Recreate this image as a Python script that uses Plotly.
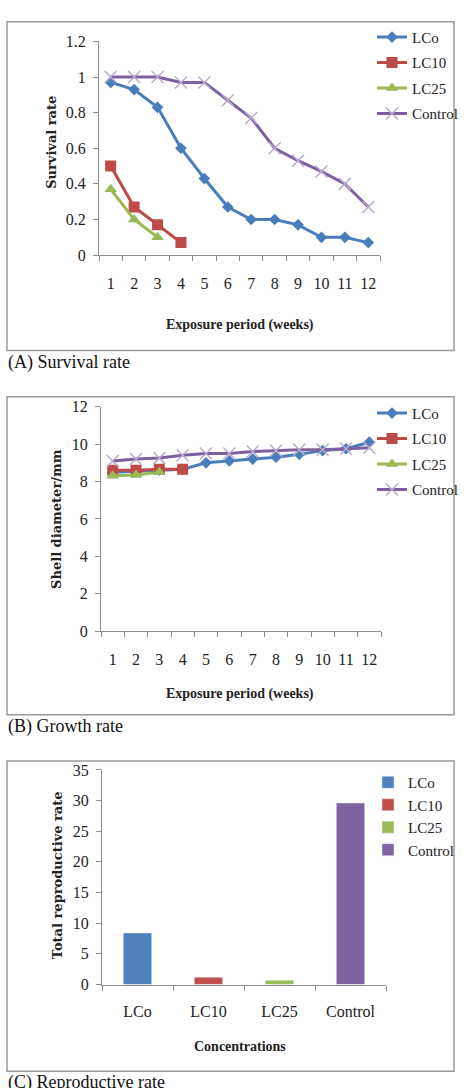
import plotly.graph_objects as go

W, H = 468, 1088

weeks = [str(i) for i in range(1, 13)]

# Panel A: survival rate
surv_lco = [0.97, 0.93, 0.83, 0.60, 0.43, 0.27, 0.20, 0.20, 0.17, 0.10, 0.10, 0.07]
surv_lc10 = [0.50, 0.27, 0.17, 0.07]
surv_lc25 = [0.37, 0.20, 0.10]
surv_ctrl = [1.00, 1.00, 1.00, 0.97, 0.97, 0.87, 0.77, 0.60, 0.53, 0.47, 0.40, 0.27]

# Panel B: shell diameter (mm)
grow_lco = [8.5, 8.55, 8.6, 8.65, 9.0, 9.1, 9.2, 9.3, 9.45, 9.65, 9.75, 10.1]
grow_lc10 = [8.6, 8.6, 8.65, 8.65]
grow_lc25 = [8.3, 8.35, 8.5]
grow_ctrl = [9.1, 9.2, 9.25, 9.4, 9.5, 9.5, 9.6, 9.65, 9.7, 9.7, 9.75, 9.8]

# Panel C: total reproductive rate
concentrations = ["LCo", "LC10", "LC25", "Control"]
repro = [8.4, 1.2, 0.7, 29.6]

series_names = ["LCo", "LC10", "LC25", "Control"]
line_colors = ["#4a7ebb", "#be4b48", "#98b954", "#7d60a0"]
bar_colors = ["#4f81bd", "#c0504d", "#9bbb59", "#8064a2"]
symbols = ["diamond", "square", "triangle-up", "x-thin"]
msizes = [9, 11, 11, 12]

SERIF = "Liberation Serif, Times New Roman, serif"
BOLDSERIF = "DejaVu Serif, serif"


def px(x):
    return x / W


def py(y):
    return 1 - y / H


fig = go.Figure()

panels = [
    (surv_lco, surv_lc10, surv_lc25, surv_ctrl, "x", "y", "legend"),
    (grow_lco, grow_lc10, grow_lc25, grow_ctrl, "x2", "y2", "legend2"),
]
for (a, b, c, d, xa, ya, lg) in panels:
    for i, vals in enumerate([a, b, c, d]):
        mk = dict(symbol=symbols[i], size=msizes[i], color=line_colors[i])
        if symbols[i] == "x-thin":
            mk = dict(symbol="x-thin", size=msizes[i],
                      line=dict(color="#b9aad0", width=1.5), color="#b9aad0")
        fig.add_trace(go.Scatter(
            x=weeks[:len(vals)], y=vals, name=series_names[i],
            mode="lines+markers",
            line=dict(color=line_colors[i], width=3),
            marker=mk, xaxis=xa, yaxis=ya, legend=lg,
            legendgroup=lg + str(i),
        ))

for i, (cat, v) in enumerate(zip(concentrations, repro)):
    fig.add_trace(go.Bar(
        x=[cat], y=[v], name=series_names[i], marker_color=bar_colors[i],
        width=0.4, xaxis="x3", yaxis="y3", legend="legend3",
        legendgroup="c" + str(i),
    ))

axis_line = dict(showline=True, linecolor="#8c8c8c", linewidth=1,
                 showgrid=False, zeroline=False, ticks="outside",
                 tickcolor="#8c8c8c", ticklen=5, tickangle=0,
                 tickfont=dict(family=SERIF, size=16, color="#222"))

fig.update_layout(
    width=W, height=H, margin=dict(l=0, r=0, t=0, b=0),
    paper_bgcolor="white", plot_bgcolor="white",
    barmode="overlay",
    font=dict(family=SERIF),
    xaxis=dict(**axis_line, domain=[px(99), px(380)], type="category",
               categoryorder="array", categoryarray=weeks,
               range=[-0.5, 11.5], tickson="boundaries",
               ticklabelstandoff=14, anchor="y"),
    yaxis=dict(**axis_line, domain=[py(251), py(34)], range=[0, 1.2],
               dtick=0.2, tickformat="~g", ticklabelstandoff=4,
               anchor="x"),
    xaxis2=dict(**axis_line, domain=[px(101), px(381)], type="category",
                categoryorder="array", categoryarray=weeks,
                range=[-0.5, 11.5], tickson="boundaries",
                ticklabelstandoff=14, anchor="y2"),
    yaxis2=dict(**axis_line, domain=[py(633), py(405)], range=[0, 12],
                dtick=2, ticklabelstandoff=4, anchor="x2"),
    xaxis3=dict(**axis_line, domain=[px(102), px(386)], type="category",
                categoryorder="array", categoryarray=concentrations,
                range=[-0.5, 3.5], tickson="boundaries",
                ticklabelstandoff=12, anchor="y3"),
    yaxis3=dict(**axis_line, domain=[py(992), py(774)], range=[0, 35],
                dtick=5, ticklabelstandoff=4, anchor="x3"),
    showlegend=True,
)

leg_common = dict(bgcolor="rgba(0,0,0,0)", xanchor="left", yanchor="top",
                  tracegroupgap=3, itemwidth=30)
fig.update_layout(
    legend=dict(**leg_common, x=px(372), y=py(13),
                font=dict(family=SERIF, size=15, color="#222")),
    legend2=dict(**leg_common, x=px(372), y=py(395),
                 font=dict(family=SERIF, size=15, color="#222")),
    legend3=dict(bgcolor="rgba(0,0,0,0)", xanchor="left", yanchor="top",
                 tracegroupgap=0, itemwidth=30, x=px(368), y=py(770),
                 font=dict(family=SERIF, size=15, color="#222")),
)

# panel boxes
for (y0, y1) in [(14, 348), (395, 718), (765, 1080)]:
    fig.add_shape(type="rect", xref="paper", yref="paper",
                  x0=px(7), x1=px(454), y0=py(y1), y1=py(y0),
                  line=dict(color="#9a9a9a", width=1.5), layer="below")

ann = []
# axis titles
for (text, x, y) in [("Exposure period (weeks)", 240, 322),
                     ("Exposure period (weeks)", 240, 697),
                     ("Concentrations", 240, 1055)]:
    ann.append(dict(text=f"<b>{text}</b>", x=px(x), y=py(y), xref="paper",
                    yref="paper", showarrow=False, xanchor="center",
                    yanchor="middle",
                    font=dict(family=SERIF, size=14, color="#222")))
for (text, x, y) in [("Survival rate", 52, 137),
                     ("Shell diameter/mm", 57, 519),
                     ("Total reproductive rate", 57, 881)]:
    ann.append(dict(text=f"<b>{text}</b>", x=px(x), y=py(y), xref="paper",
                    yref="paper", showarrow=False, xanchor="center",
                    yanchor="middle", textangle=-90,
                    font=dict(family=BOLDSERIF, size=13, color="#222")))
# captions
for (text, y) in [("(A) Survival rate", 360), ("(B) Growth rate", 730),
                  ("(C) Reproductive rate", 1092)]:
    ann.append(dict(text=text, x=px(6), y=py(y), xref="paper", yref="paper",
                    showarrow=False, xanchor="left", yanchor="middle",
                    font=dict(family=SERIF, size=18, color="#111")))
fig.update_layout(annotations=ann)

fig.write_html("out.html")
